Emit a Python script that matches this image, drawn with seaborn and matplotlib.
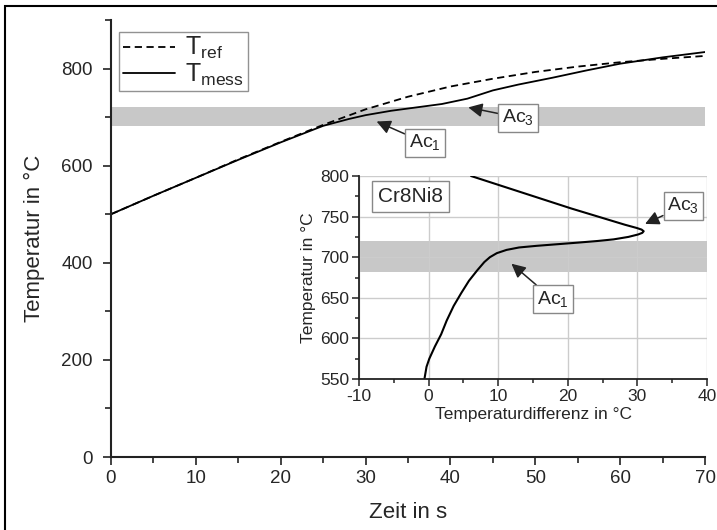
import numpy as np
import pandas as pd
import matplotlib
matplotlib.use("Agg")
import matplotlib.pyplot as plt
from matplotlib.patches import Rectangle
from matplotlib.ticker import MultipleLocator
import seaborn as sns

# heating curves (main plot)
t_ref = [0, 5, 10, 15, 20, 25, 30, 35, 40, 45, 50, 55, 60, 65, 70]
T_ref = [500, 538, 575, 613, 649, 684, 716, 742, 763, 779, 793, 804, 813, 820, 826]
t_mess = [0, 5, 10, 15, 20, 25, 28, 30, 33, 36, 39, 42, 45, 48, 52, 56, 60, 65, 70]
T_mess = [500, 538, 575, 612, 648, 682, 696, 704, 713, 720, 727, 738, 755, 767, 781, 796, 810, 823, 834]

# temperature difference (inset)
inset_T = [550, 555, 565, 575, 590, 605, 622, 640, 656, 671, 684, 694, 700, 705, 709, 712, 714,
           716, 718, 720, 722, 725, 728, 730, 732, 734, 736, 740, 760, 780, 800]
inset_dT = [-0.6, -0.5, -0.3, 0.1, 0.9, 1.8, 2.6, 3.6, 4.7, 5.8, 7.0, 8.0, 8.8, 9.8, 11.2, 13.0, 15.5,
            18.5, 21.5, 24.3, 26.6, 28.7, 30.1, 30.7, 30.9, 30.6, 29.9, 28.2, 20.5, 13.3, 6.1]

band = (682, 720)

sns.set_theme(style="ticks")
plt.rcParams["font.family"] = ["Liberation Sans", "DejaVu Sans"]
plt.rcParams["mathtext.fontset"] = "custom"
plt.rcParams["mathtext.rm"] = "Liberation Sans"
plt.rcParams["axes.unicode_minus"] = False

fig = plt.figure(figsize=(7.17, 5.30), dpi=100)
fig.patches.append(Rectangle((5 / 717, -0.2), 1.2, 1.2 - 6 / 530, transform=fig.transFigure,
                             fill=False, ec="black", lw=1.5))

ax = fig.add_axes([0.1548, 0.1377, 0.8285, 0.8246])
ax.axhspan(*band, color="#c8c8c8", lw=0, zorder=0.3)
sns.lineplot(x=t_ref, y=T_ref, ax=ax, color="black", lw=1.3, linestyle=(0, (4, 2.5)), label="T$_\\mathregular{ref}$")
sns.lineplot(x=t_mess, y=T_mess, ax=ax, color="black", lw=1.3, label="T$_\\mathregular{mess}$")
ax.set_xlim(0, 70)
ax.set_ylim(0, 900)
ax.set_yticks([0, 200, 400, 600, 800])
ax.xaxis.set_minor_locator(MultipleLocator(5))
ax.yaxis.set_minor_locator(MultipleLocator(100))
ax.tick_params(which="major", length=6, width=1.2, labelsize=13.5, color="#222222")
ax.tick_params(which="minor", length=4, width=1.2, color="#222222")
ax.tick_params(axis="y", which="major", pad=7)
ax.spines["right"].set_visible(False)
ax.spines["top"].set_visible(False)
for s in ("left", "bottom"):
    ax.spines[s].set_linewidth(1.5)
    ax.spines[s].set_color("#222222")
ax.set_xlabel("Zeit in s", fontsize=16, labelpad=11)
ax.set_ylabel("Temperatur in °C", fontsize=16, labelpad=12)
leg = ax.legend(loc="upper left", bbox_to_anchor=(0.005, 0.985), fontsize=18, handlelength=2.1,
                frameon=True, fancybox=False, borderpad=0.15, labelspacing=0.0, handletextpad=0.4,
                borderaxespad=0.2)
leg.get_frame().set_edgecolor("#777777")
leg.get_frame().set_linewidth(1)

box = dict(boxstyle="square,pad=0.2", fc="white", ec="#888888", lw=1)
arrow = dict(arrowstyle="-|>,head_length=0.6,head_width=0.3", color="#222222", lw=1.1, shrinkA=0, shrinkB=0)
ax.annotate("Ac$_\\mathregular{1}$", xy=(31.3, 691), xytext=(37, 647), ha="center", va="center",
            fontsize=14, bbox=box, arrowprops=arrow)
ax.annotate("Ac$_\\mathregular{3}$", xy=(42.1, 720), xytext=(48, 699), ha="center", va="center",
            fontsize=14, bbox=box, arrowprops=arrow)

# inset
ins = fig.add_axes([0.5007, 0.2849, 0.4854, 0.383])
ins.set_facecolor("white")
ins.axhspan(*band, color="#c8c8c8", lw=0, zorder=0.2)
ins.grid(True, color="#cccccc", lw=1)
ins.set_axisbelow(True)
sns.lineplot(x=inset_dT, y=inset_T, ax=ins, color="black", lw=1.5, orient="y", estimator=None, sort=True)
ins.set_xlim(-10, 40)
ins.set_ylim(550, 800)
ins.set_xticks([-10, 0, 10, 20, 30, 40])
ins.set_yticks([550, 600, 650, 700, 750, 800])
ins.xaxis.set_minor_locator(MultipleLocator(5))
ins.yaxis.set_minor_locator(MultipleLocator(25))
ins.tick_params(which="major", length=5, width=1.1, labelsize=12.5, pad=2, color="#222222")
ins.tick_params(which="minor", length=3, width=1.1, color="#222222")
ins.spines["right"].set_visible(False)
ins.spines["top"].set_visible(False)
for s in ("left", "bottom"):
    ins.spines[s].set_linewidth(1.3)
    ins.spines[s].set_color("#222222")
ins.set_xlabel("Temperaturdifferenz in °C", fontsize=12.5, labelpad=2)
ins.set_ylabel("Temperatur in °C", fontsize=12.5, labelpad=3)
ins.text(-2.6, 775, "Cr8Ni8", ha="center", va="center", fontsize=15,
         bbox=dict(boxstyle="square,pad=0.3", fc="white", ec="#888888", lw=1))
ins.annotate("Ac$_\\mathregular{3}$", xy=(31.1, 741), xytext=(36.6, 763), ha="center", va="center",
             fontsize=14, bbox=box, arrowprops=arrow)
ins.annotate("Ac$_\\mathregular{1}$", xy=(11.9, 692), xytext=(17.9, 648), ha="center", va="center",
             fontsize=14, bbox=box, arrowprops=arrow)

fig.savefig("out.png", dpi=100)
